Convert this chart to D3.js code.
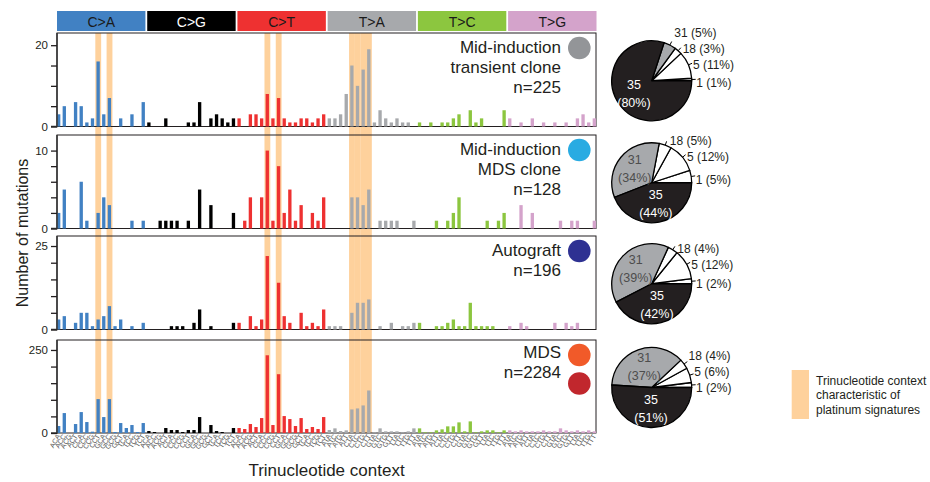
<!DOCTYPE html>
<html>
<head>
<meta charset="utf-8">
<title>Trinucleotide context</title>
<script src="https://cdn.jsdelivr.net/npm/d3@7"></script>
<style>
  body { margin: 0; background: #fff; }
  svg text { font-family: "Liberation Sans", Arial, Helvetica, sans-serif; fill: #231f20; }
</style>
</head>
<body>
<div id="chart"></div>
<script>
  const width = 930, height = 482;

  // mutation classes and colours
  const subs = ["C>A", "C>G", "C>T", "T>A", "T>C", "T>G"];
  const subColors = ["#4181c3", "#000000", "#ee3131", "#a7a9ac", "#8cc63f", "#d4a3cb"];
  const stripText = ["#1a1a1a", "#ffffff", "#1a1a1a", "#1a1a1a", "#1a1a1a", "#1a1a1a"];
  const bases = ["A", "C", "G", "T"];

  // counts per context (16 per class, classes in the order above)
  const transientCounts = [
    3, 5, 0, 6, 5, 1, 2, 16, 3, 7, 0, 2, 0, 3, 0, 6,
    1, 0, 0, 2, 0, 0, 0, 1, 1, 6, 0, 2, 3, 2, 1, 2,
    2, 0, 3, 3, 2, 8, 2, 7, 2, 1, 1, 2, 2, 1, 2, 3,
    2, 2, 3, 8, 15, 10, 14, 19, 1, 4, 2, 1, 2, 1, 1, 0,
    1, 0, 1, 0, 1, 1, 2, 3, 0, 4, 1, 2, 0, 0, 0, 4,
    2, 0, 1, 0, 2, 0, 1, 0, 1, 0, 1, 0, 2, 3, 1, 2];
  const mdsCloneCounts = [
    2, 5, 0, 0, 6, 1, 0, 2, 4, 3, 0, 0, 0, 1, 0, 1,
    0, 0, 1, 1, 1, 1, 0, 1, 0, 5, 0, 3, 0, 0, 0, 2,
    0, 1, 4, 0, 4, 10, 1, 8, 2, 5, 1, 3, 0, 2, 1, 4,
    0, 0, 0, 0, 4, 4, 3, 5, 0, 1, 1, 1, 1, 0, 0, 1,
    0, 0, 0, 1, 0, 1, 2, 4, 0, 0, 0, 0, 1, 0, 1, 2,
    0, 0, 3, 0, 2, 0, 0, 0, 0, 1, 0, 1, 1, 0, 0, 1];
  const autograftCounts = [
    3, 4, 0, 2, 5, 5, 1, 3, 4, 7, 1, 3, 0, 1, 0, 2,
    0, 0, 0, 0, 1, 1, 1, 0, 2, 6, 0, 1, 0, 0, 0, 2,
    2, 0, 4, 1, 3, 22, 0, 14, 4, 2, 0, 5, 1, 2, 1, 6,
    1, 1, 1, 0, 5, 8, 8, 9, 0, 1, 0, 2, 0, 1, 1, 2,
    2, 0, 0, 1, 1, 2, 3, 1, 1, 8, 1, 1, 1, 1, 0, 0,
    1, 0, 2, 1, 0, 0, 0, 0, 2, 0, 2, 1, 2, 0, 0, 0];
  const mdsCounts = [
    21, 60, 0, 27, 63, 33, 4, 102, 48, 102, 3, 30, 15, 24, 3, 30,
    6, 3, 0, 15, 9, 9, 3, 9, 9, 48, 0, 24, 6, 3, 0, 15,
    15, 12, 27, 18, 45, 234, 24, 177, 51, 42, 21, 45, 12, 18, 12, 48,
    9, 14, 6, 8, 71, 74, 83, 128, 2, 14, 5, 5, 5, 2, 5, 14,
    14, 2, 2, 8, 11, 20, 20, 32, 5, 35, 2, 5, 8, 8, 2, 8,
    8, 5, 8, 5, 5, 5, 8, 5, 5, 14, 8, 5, 8, 5, 8, 5];

  const panelCounts = [transientCounts, mdsCloneCounts, autograftCounts, mdsCounts];
  const panelTitles = [["Mid-induction", "transient clone", "n=225"],
                       ["Mid-induction", "MDS clone", "n=128"],
                       ["Autograft", "n=196"],
                       ["MDS", "n=2284"]];
  const panelDots = [["#939598"], ["#29abe2"], ["#2e3192"], ["#f15a29", "#c1272d"]];
  const yMax = [23, 12, 28, 280];
  const yStep = [5, 2, 5, 50];
  const yLabelled = [20, 10, 25, 250];

  // platinum-signature contexts (index into the 96)
  const platinumIdx = [7, 9, 37, 39, 52, 53, 54, 55];

  // signature pies
  const sigNames = ["1", "5", "18", "31", "35"];
  const sigFills = ["#ffffff", "#ffffff", "#ffffff", "#a7a9ac", "#231f20"];
  const sigPct = [[1, 11, 3, 5, 80], [5, 12, 5, 34, 44], [2, 12, 4, 39, 42], [2, 6, 4, 37, 51]];

  const contexts = [];
  subs.forEach(s => bases.forEach(b5 => bases.forEach(b3 => contexts.push(b5 + s[0] + b3))));

  const left = 57, right = 596;
  const panels = [{ top: 33, bottom: 126.5 }, { top: 135, bottom: 228.5 },
                  { top: 236, bottom: 329.5 }, { top: 340, bottom: 433 }];

  const svg = d3.select("#chart").append("svg")
    .attr("width", width).attr("height", height);

  const x = d3.scaleBand().domain(d3.range(96)).range([left, right])
    .paddingInner(0.41).paddingOuter(0);
  const step = x.step(), bw = x.bandwidth();

  // highlight bands behind everything
  svg.append("g").selectAll("rect").data(platinumIdx).join("rect")
    .attr("x", d => x(d) - (step - bw) / 2)
    .attr("width", step + 0.2)
    .attr("y", panels[0].top)
    .attr("height", panels[3].bottom - panels[0].top)
    .attr("fill", "#fed19c");

  // class strips
  const strip = svg.append("g").selectAll("g").data(subs).join("g");
  strip.append("rect")
    .attr("x", (d, i) => x(i * 16))
    .attr("y", 11).attr("height", 20)
    .attr("width", step * 16 - 1.8)
    .attr("fill", (d, i) => subColors[i]);
  strip.append("text")
    .attr("x", (d, i) => x(i * 16) + (step * 16 - 1.8) / 2)
    .attr("y", 26.5)
    .attr("text-anchor", "middle")
    .attr("font-size", "14px")
    .style("fill", (d, i) => stripText[i])
    .text(d => d);

  const pie = d3.pie().sort(null).value(d => d)
    .startAngle(Math.PI / 2).endAngle(Math.PI / 2 - 2 * Math.PI);
  const pieR = 40;
  const arc = d3.arc().innerRadius(0).outerRadius(pieR);

  panels.forEach((p, k) => {
    const g = svg.append("g");
    const y = d3.scaleLinear().domain([0, yMax[k]]).range([p.bottom, p.top]);

    g.append("rect")
      .attr("x", left).attr("y", p.top)
      .attr("width", right - left).attr("height", p.bottom - p.top)
      .attr("fill", "none").attr("stroke", "#231f20").attr("stroke-width", 1);

    g.append("g").selectAll("rect").data(panelCounts[k]).join("rect")
      .attr("x", (d, i) => x(i))
      .attr("width", bw)
      .attr("y", d => y(d))
      .attr("height", d => y(0) - y(d))
      .attr("fill", (d, i) => subColors[Math.floor(i / 16)]);

    const axis = d3.axisLeft(y)
      .tickValues(d3.range(0, yMax[k], yStep[k]))
      .tickSize(6).tickPadding(3)
      .tickFormat(d => (d === 0 || d === yLabelled[k]) ? d : "");
    const ag = g.append("g").attr("transform", `translate(${left},0)`).call(axis);
    ag.select(".domain").attr("stroke", "#3a3a3a").attr("stroke-width", 1.6)
      .attr("d", `M-6,${p.bottom}H0V${p.top}`);
    ag.selectAll(".tick line").attr("stroke", "#231f20").attr("stroke-width", 1.3);
    ag.selectAll(".tick text").attr("font-size", "11.5px").style("fill", "#231f20")
      .attr("font-family", "'Liberation Sans', Arial, sans-serif");

    // titles
    panelTitles[k].forEach((t, j) => {
      g.append("text")
        .attr("x", 561).attr("y", p.top + (k === 3 ? 17.5 : 19.7) + j * 20)
        .attr("text-anchor", "end").attr("font-size", "17px")
        .text(t);
    });
    panelDots[k].forEach((c, j) => {
      g.append("circle").attr("cx", 579.3).attr("cy", p.top + 15 + j * 28.5)
        .attr("r", 11.3).attr("fill", c);
    });

    // pie
    const cx = 651.7, cy = (p.top + p.bottom) / 2 + 1;
    const pg = svg.append("g").attr("transform", `translate(${cx},${cy})`);
    const arcs = pie(sigPct[k]);
    pg.selectAll("path").data(arcs).join("path")
      .attr("d", arc)
      .attr("fill", (d, i) => sigFills[i])
      .attr("stroke", "#000").attr("stroke-width", 1.3).attr("stroke-linejoin", "round");

    let prevY = null;
    arcs.forEach((a, i) => {
      const mid = (a.startAngle + a.endAngle) / 2;
      const outer = i < 3 || a.data < 15;
      if (outer) {
        const px = pieR * Math.sin(mid), py = -pieR * Math.cos(mid);
        let ly = prevY === null ? py + 3 : Math.min(py, prevY - 16);
        prevY = ly;
        pg.append("line")
          .attr("x1", px).attr("y1", py)
          .attr("x2", px + 4 * Math.sin(mid)).attr("y2", py - 4 * Math.cos(mid))
          .attr("stroke", "#000").attr("stroke-width", 1);
        pg.append("text")
          .attr("x", px + 4.5).attr("y", ly).attr("dy", "0.35em")
          .attr("font-size", "12px")
          .text(`${sigNames[i]} (${a.data}%)`);
      } else {
        const c = d3.arc().innerRadius(0).outerRadius(pieR * 1.1).centroid(a);
        const col = i === 4 ? "#ffffff" : "#4d4d4d";
        pg.append("text").attr("x", c[0]).attr("y", c[1] - 5)
          .attr("text-anchor", "middle").attr("font-size", "12.5px")
          .style("fill", col).text(sigNames[i]);
        pg.append("text").attr("x", c[0]).attr("y", c[1] + 13)
          .attr("text-anchor", "middle").attr("font-size", "12.5px")
          .style("fill", col).text(`(${a.data}%)`);
      }
    });
  });

  // context labels under the bottom panel
  svg.append("g").selectAll("text").data(contexts).join("text")
    .attr("transform", (d, i) => `translate(${x(i) + bw / 2 + 2},${panels[3].bottom + 3}) rotate(-60)`)
    .attr("text-anchor", "end")
    .attr("font-size", "7px")
    .style("fill", "#555")
    .text(d => d);

  svg.append("text")
    .attr("transform", `translate(28,${(panels[0].top + panels[3].bottom) / 2}) rotate(-90)`)
    .attr("text-anchor", "middle").attr("font-size", "16px")
    .text("Number of mutations");

  svg.append("text")
    .attr("x", (left + right) / 2).attr("y", 476)
    .attr("text-anchor", "middle").attr("font-size", "17px")
    .text("Trinucleotide context");

  // legend
  svg.append("rect").attr("x", 791.7).attr("y", 370).attr("width", 17.3).attr("height", 49)
    .attr("fill", "#fed19c");
  ["Trinucleotide context", "characteristic of", "platinum signatures"].forEach((t, j) => {
    svg.append("text").attr("x", 816).attr("y", 384.5 + j * 14.5)
      .attr("font-size", "12px").text(t);
  });
</script>
</body>
</html>
